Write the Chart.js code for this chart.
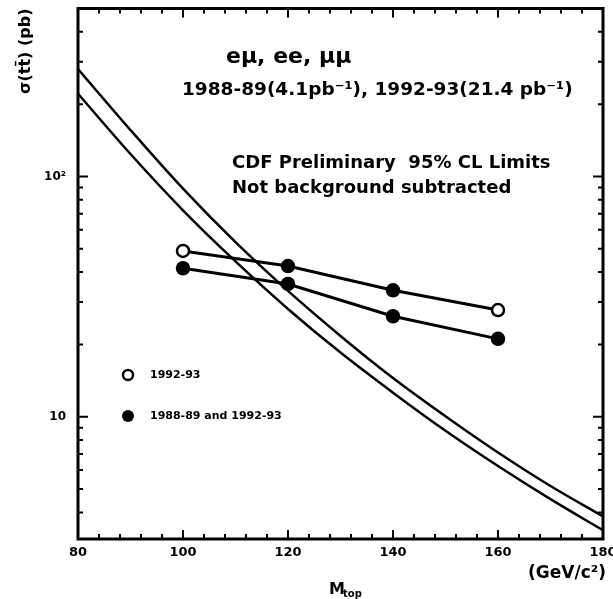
<!DOCTYPE html>
<html>
<head>
<meta charset="utf-8">
<script src="https://cdn.jsdelivr.net/npm/chart.js@4.4.0/dist/chart.umd.min.js"></script>
<style>
html, body { margin: 0; padding: 0; overflow: hidden; background: #fff; }
#wrap { width: 613px; height: 599px; overflow: hidden; }
</style>
</head>
<body>
<div id="wrap"><canvas id="chart" width="620" height="599"></canvas></div>
<script>
// theory bands, sigma(tt) vs top mass
const massTheory = [80, 90, 100, 110, 120, 130, 140, 150, 160, 170, 180];
const theoryHigh = [280, 156, 89, 53.3, 33.4, 21.7, 14.5, 10.05, 7.1, 5.15, 3.85];
const theoryLow = [221, 124, 72.3, 44.3, 28.1, 18.5, 12.6, 8.75, 6.24, 4.54, 3.37];
// 95% CL limits
const massLimits = [100, 120, 140, 160];
const limits9293 = [49, 42.4, 33.6, 27.8];
const limitsCombined = [41.5, 35.7, 26.2, 21.1];
// axis labels
const xTickValues = [80, 100, 120, 140, 160, 180];
const yTickValues = [10, 100];
const yTickLabels = ['10', '10²'];

const FONT = '"DejaVu Sans", sans-serif';

const toPoints = (xs, ys) => xs.map((v, i) => ({ x: v, y: ys[i] }));

// frame with inward ticks on all four sides
const frame = {
    id: 'frame',
    afterDatasetsDraw(chart) {
        const { ctx, chartArea: a, scales: { x, y } } = chart;
        ctx.save();
        ctx.strokeStyle = '#000';
        ctx.lineWidth = 2;
        ctx.beginPath();
        for (let m = 80; m <= 180; m += 4) {
            const px = x.getPixelForValue(m);
            const len = m % 20 === 0 ? 9 : 5;
            ctx.moveTo(px, a.bottom); ctx.lineTo(px, a.bottom - len);
            ctx.moveTo(px, a.top); ctx.lineTo(px, a.top + len);
        }
        [1, 10, 100].forEach(dec => {
            for (let k = 1; k <= 9; k++) {
                const v = dec * k;
                if (v < y.min || v > y.max) continue;
                const py = y.getPixelForValue(v);
                const len = k === 1 ? 10 : 5;
                ctx.moveTo(a.left, py); ctx.lineTo(a.left + len, py);
                ctx.moveTo(a.right, py); ctx.lineTo(a.right - len, py);
            }
        });
        ctx.stroke();
        ctx.lineWidth = 3;
        ctx.strokeRect(a.left, a.top, a.right - a.left, a.bottom - a.top);
        ctx.restore();
    }
};

// texts, legend and unit labels
const notes = {
    id: 'notes',
    afterDraw(chart) {
        const { ctx } = chart;
        ctx.save();
        ctx.fillStyle = '#000';
        ctx.textBaseline = 'alphabetic';
        ctx.textAlign = 'left';
        ctx.font = 'bold 22px ' + FONT;
        ctx.fillText('eμ, ee, μμ', 226, 63);
        ctx.font = 'bold 18.5px ' + FONT;
        ctx.fillText('1988-89(4.1pb⁻¹), 1992-93(21.4 pb⁻¹)', 182, 95);
        ctx.font = 'bold 18px ' + FONT;
        ctx.fillText('CDF Preliminary  95% CL Limits', 232, 168);
        ctx.fillText('Not background subtracted', 232, 193);

        // legend
        ctx.lineWidth = 2.5;
        ctx.beginPath(); ctx.arc(128, 375, 5, 0, Math.PI * 2);
        ctx.fillStyle = '#fff'; ctx.fill(); ctx.stroke();
        ctx.beginPath(); ctx.arc(128, 416, 6, 0, Math.PI * 2);
        ctx.fillStyle = '#000'; ctx.fill();
        ctx.font = 'bold 11px ' + FONT;
        ctx.textBaseline = 'middle';
        ctx.fillText('1992-93', 150, 375);
        ctx.fillText('1988-89 and 1992-93', 150, 416);

        // x axis title and units
        ctx.textBaseline = 'alphabetic';
        ctx.font = 'bold 16px ' + FONT;
        ctx.fillText('M', 329, 594);
        ctx.font = 'bold 10px ' + FONT;
        ctx.fillText('top', 343, 597);
        ctx.textAlign = 'right';
        ctx.font = 'bold 17px ' + FONT;
        ctx.fillText('(GeV/c²)', 606, 578);
        ctx.restore();
    }
};

new Chart(document.getElementById('chart'), {
    type: 'line',
    data: {
        datasets: [
            {
                label: 'theory high',
                data: toPoints(massTheory, theoryHigh),
                borderColor: '#000', borderWidth: 2.5,
                pointRadius: 0, cubicInterpolationMode: 'monotone'
            },
            {
                label: 'theory low',
                data: toPoints(massTheory, theoryLow),
                borderColor: '#000', borderWidth: 2.5,
                pointRadius: 0, cubicInterpolationMode: 'monotone'
            },
            {
                label: '1992-93',
                data: toPoints(massLimits, limits9293),
                borderColor: '#000', borderWidth: 3,
                pointRadius: 6, pointBorderWidth: 2.5,
                pointBorderColor: '#000',
                pointBackgroundColor: ['#fff', '#000', '#000', '#fff']
            },
            {
                label: '1988-89 and 1992-93',
                data: toPoints(massLimits, limitsCombined),
                borderColor: '#000', borderWidth: 3,
                pointRadius: 6, pointBorderWidth: 2.5,
                pointBorderColor: '#000', pointBackgroundColor: '#000'
            }
        ]
    },
    options: {
        responsive: false,
        animation: false,
        devicePixelRatio: 1,
        layout: { padding: { top: 8, right: 17, left: 0, bottom: 0 } },
        plugins: { legend: { display: false }, tooltip: { enabled: false } },
        scales: {
            x: {
                type: 'linear', min: 80, max: 180,
                grid: { display: false, drawTicks: false },
                border: { display: false },
                afterBuildTicks: s => { s.ticks = xTickValues.map(v => ({ value: v })); },
                afterFit: s => { s.height = 60; s.paddingLeft = 0; s.paddingRight = 0; },
                ticks: {
                    autoSkip: false, maxRotation: 0, padding: 6,
                    color: '#000', font: { family: FONT, size: 13, weight: 'bold' }
                }
            },
            y: {
                type: 'logarithmic', min: 3.1, max: 500,
                grid: { display: false, drawTicks: false },
                border: { display: false },
                afterBuildTicks: s => { s.ticks = yTickValues.map(v => ({ value: v })); },
                afterFit: s => { s.width = 78; s.paddingTop = 0; s.paddingBottom = 0; },
                ticks: {
                    padding: 12,
                    color: '#000', font: { family: FONT, size: 12, weight: 'bold' },
                    callback: v => yTickLabels[yTickValues.indexOf(v)]
                },
                title: {
                    display: true, text: 'σ(tt̄) (pb)', align: 'end',
                    color: '#000', font: { family: FONT, size: 16, weight: 'bold' },
                    padding: { top: 16, bottom: 0 }
                }
            }
        }
    },
    plugins: [frame, notes]
});
</script>
</body>
</html>
